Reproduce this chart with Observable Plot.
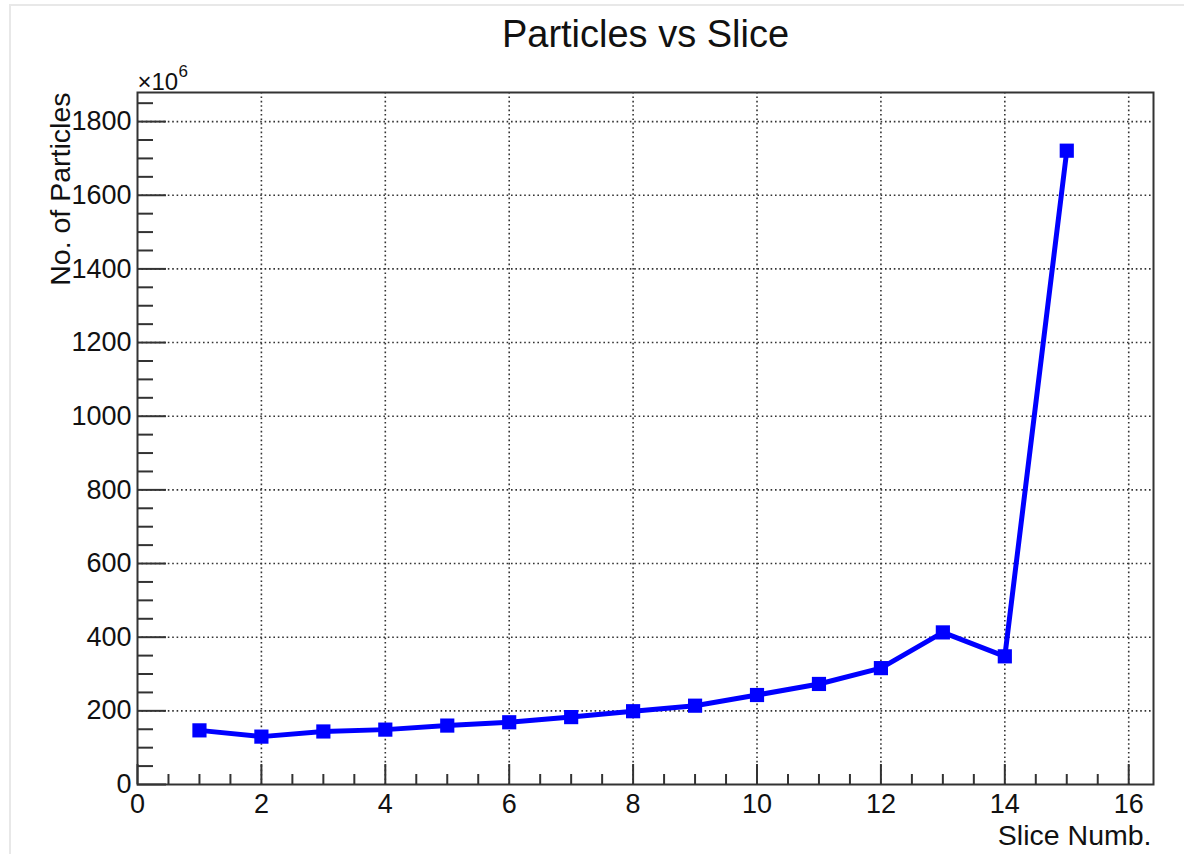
<!DOCTYPE html>
<html>
<head>
<meta charset="utf-8">
<script src="https://cdn.jsdelivr.net/npm/d3@7"></script>
<script src="https://cdn.jsdelivr.net/npm/@observablehq/plot@0.6"></script>
<style>
  html, body { margin: 0; padding: 0; background: #fff; }
  #wrap { position: relative; width: 1184px; height: 854px; overflow: hidden; font-family: "Liberation Sans", Arial, Helvetica, sans-serif; }
  #edge { position: absolute; left: 9px; top: 4px; right: -10px; bottom: -10px; border-top: 2px solid #e8e8e8; border-left: 2px solid #e8e8e8; }
  #wrap svg { position: absolute; left: 0; top: 0; }
</style>
</head>
<body>
<div id="wrap"><div id="edge"></div></div>
<script>
// Data
const slices = [1, 2, 3, 4, 5, 6, 7, 8, 9, 10, 11, 12, 13, 14, 15];
const particles = [147, 130, 144, 149, 160, 169, 183, 199, 214, 243, 273, 316, 413, 348, 1721]; // ×10^6

// Tick labels / positions
const xMajor = [0, 2, 4, 6, 8, 10, 12, 14, 16];
const xMinor = [0.5, 1, 1.5, 2.5, 3, 3.5, 4.5, 5, 5.5, 6.5, 7, 7.5, 8.5, 9, 9.5, 10.5, 11, 11.5, 12.5, 13, 13.5, 14.5, 15, 15.5];
const yMajor = [0, 200, 400, 600, 800, 1000, 1200, 1400, 1600, 1800];
const yMinor = [50, 100, 150, 250, 300, 350, 450, 500, 550, 650, 700, 750, 850, 900, 950, 1050, 1100, 1150, 1250, 1300, 1350, 1450, 1500, 1550, 1650, 1700, 1750, 1850];

const titleText = "Particles vs Slice";
const xTitle = "Slice Numb.";
const yTitle = "No. of Particles";
const expBase = "×10";
const expPow = "6";

const data = slices.map((s, i) => ({slice: s, n: particles[i]}));

const W = 1184, H = 854;
const mL = 137, mR = 31, mT = 92, mB = 70;
const fw = W - mL - mR, fh = H - mT - mB;
const font = "Liberation Sans, Arial, Helvetica, sans-serif";

const chart = Plot.plot({
  width: W,
  height: H,
  marginLeft: mL,
  marginRight: mR,
  marginTop: mT,
  marginBottom: mB,
  style: {fontFamily: font, color: "#111", background: "transparent", overflow: "visible"},
  x: {domain: [0, 16.4], axis: null},
  y: {domain: [0, 1879], axis: null},
  marks: [
    Plot.gridX(xMajor.filter(d => d > 0), {stroke: "#333", strokeOpacity: 1, strokeWidth: 1.6, strokeDasharray: "1.6,2.8"}),
    Plot.gridY(yMajor.filter(d => d > 0), {stroke: "#333", strokeOpacity: 1, strokeWidth: 1.6, strokeDasharray: "1.6,2.8"}),
    Plot.tickX(xMajor, {x: d => d, insetTop: fh - 20, stroke: "#333", strokeWidth: 2}),
    Plot.tickX(xMinor, {x: d => d, insetTop: fh - 10, stroke: "#333", strokeWidth: 2}),
    Plot.tickY(yMajor, {y: d => d, insetRight: fw - 29, stroke: "#333", strokeWidth: 2}),
    Plot.tickY(yMinor, {y: d => d, insetRight: fw - 16, stroke: "#333", strokeWidth: 2}),
    Plot.axisX(xMajor, {tickSize: 0, tickPadding: 9, fontSize: 27, label: null, fill: "#111", tickFormat: d => String(d)}),
    Plot.axisY(yMajor, {tickSize: 0, tickPadding: 6, fontSize: 27, label: null, fill: "#111", tickFormat: d => String(d)}),
    Plot.frame({stroke: "#333", strokeWidth: 2}),
    Plot.line(data, {x: "slice", y: "n", stroke: "#0000ff", strokeWidth: 5}),
    Plot.dot(data, {x: "slice", y: "n", symbol: "square", r: 8, fill: "#0000ff", stroke: "none"}),
    Plot.text([titleText], {frameAnchor: "top", dy: -46, lineAnchor: "bottom", fontSize: 38, fill: "#111"}),
    Plot.text([expBase], {frameAnchor: "top-left", dx: 0, dy: -3, textAnchor: "start", lineAnchor: "bottom", fontSize: 24, fill: "#111"}),
    Plot.text([expPow], {frameAnchor: "top-left", dx: 41, dy: -16, textAnchor: "start", lineAnchor: "bottom", fontSize: 17, fill: "#111"}),
    Plot.text([yTitle], {frameAnchor: "top-left", dx: -77, dy: 0, rotate: -90, textAnchor: "end", lineAnchor: "middle", fontSize: 28.5, fill: "#111"}),
    Plot.text([xTitle], {frameAnchor: "bottom-right", dx: -2, dy: 60, textAnchor: "end", lineAnchor: "bottom", fontSize: 28.5, fill: "#111"})
  ]
});

document.getElementById("wrap").appendChild(chart);
</script>
</body>
</html>
